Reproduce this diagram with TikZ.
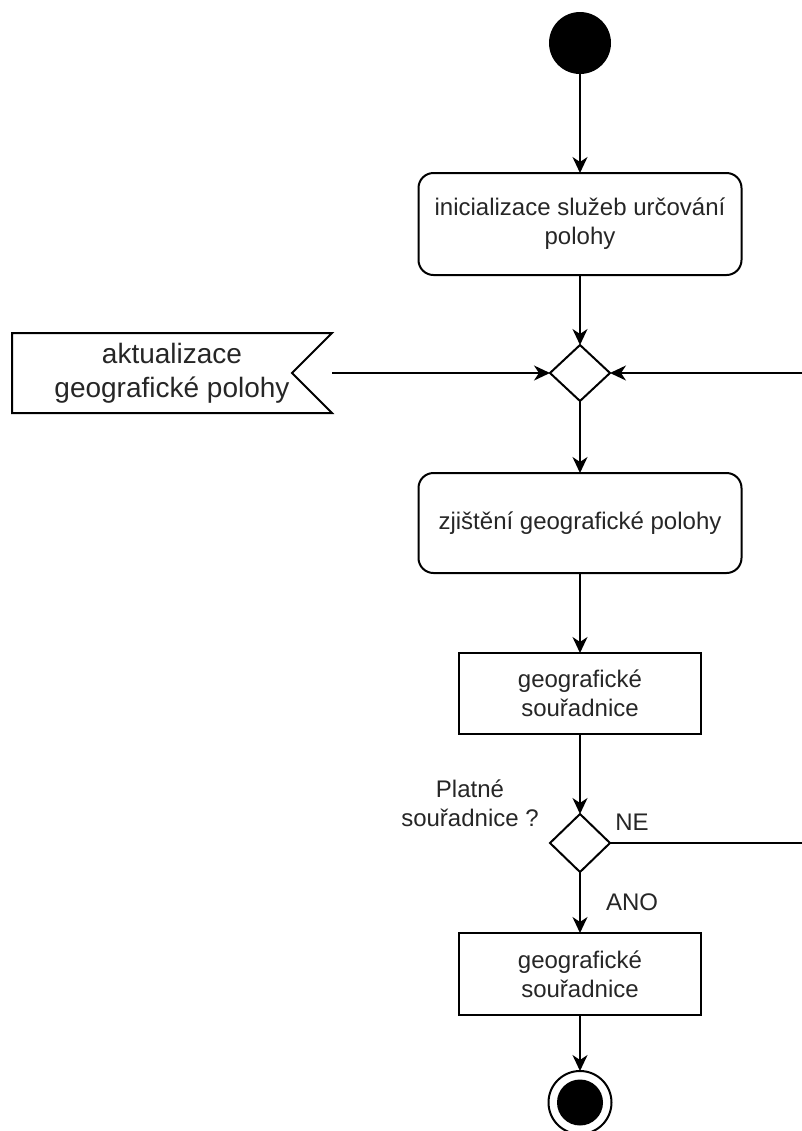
\documentclass[tikz,border=0pt]{standalone}
\usepackage{fontspec}
\setmainfont{Liberation Sans}
\usetikzlibrary{positioning,shapes.geometric,arrows.meta}

\tikzset{action/.style={draw, rounded corners=7.5pt, minimum width=161.5pt, minimum height=51pt, align=center},
         objbox/.style={draw, minimum width=121pt, minimum height=40.5pt, align=center},
         decision/.style={draw, diamond, minimum width=30pt, minimum height=28pt, inner sep=0pt},
         flow/.style={-{Stealth[length=8pt,width=7.5pt,inset=2.5pt]}}}

\begin{document}
\begin{tikzpicture}[font=\fontsize{12}{14.4}\selectfont, line width=1pt, outer sep=0pt, text=black!85]
                    \useasboundingbox (0,0) rectangle (401pt,-565.5pt);
                    \clip (0,0) rectangle (401pt,-565.5pt);
                    \node (start) [circle, fill, minimum size=31pt, inner sep=0pt] at (290pt,-21.5pt) {};
                    \node (init) [action, below=49.5pt of start] {inicializace služeb určování\\polohy};
                    \node (merge) [decision, below=35pt of init] {};
                    \node (zjist) [action, minimum height=50pt, below=36pt of merge] {zjištění geografické polohy};
                    \node (coords) [objbox, below=40pt of zjist] {geografické\\souřadnice};
                    \node (check) [decision, minimum height=29pt, below=40pt of coords] {};
                    \node (result) [objbox, minimum height=41pt, below=30.5pt of check] {geografické\\souřadnice};
                    \node (final) [circle, draw, minimum size=31.5pt, inner sep=0pt, below=28pt of result] {};
                    \node (finalDot) [circle, fill, minimum size=23pt, inner sep=0pt] at (final) {};
                    \node (update) [minimum width=160pt, minimum height=40pt, align=center,
                                    font=\fontsize{14}{16.8}\selectfont, left=109pt of merge] {aktualizace\\geografické polohy};
                    \draw (update.north west) -- (update.north east) -- ([xshift=-20pt]update.east)
                          -- (update.south east) -- (update.south west) -- cycle;
                    \node (cond) [align=center] at (235pt,-401.5pt) {Platné\\souřadnice ?};
                    \node (ne) at (316pt,-411pt) {NE};
                    \node (ano) at (316pt,-451pt) {ANO};
                    \coordinate (loop) at (420pt,0);
                    \draw[flow] (start) -- (init);
                    \draw[flow] (init) -- (merge);
                    \draw[flow] (update.east) -- (merge.west);
                    \draw[flow] (merge) -- (zjist);
                    \draw[flow] (zjist) -- (coords);
                    \draw[flow] (coords) -- (check);
                    \draw[flow] (check) -- (result);
                    \draw[flow] (result) -- (final);
                    \draw[flow] (check.east) -- (check.east -| loop) |- (merge.east);
                \end{tikzpicture}
\end{document}
